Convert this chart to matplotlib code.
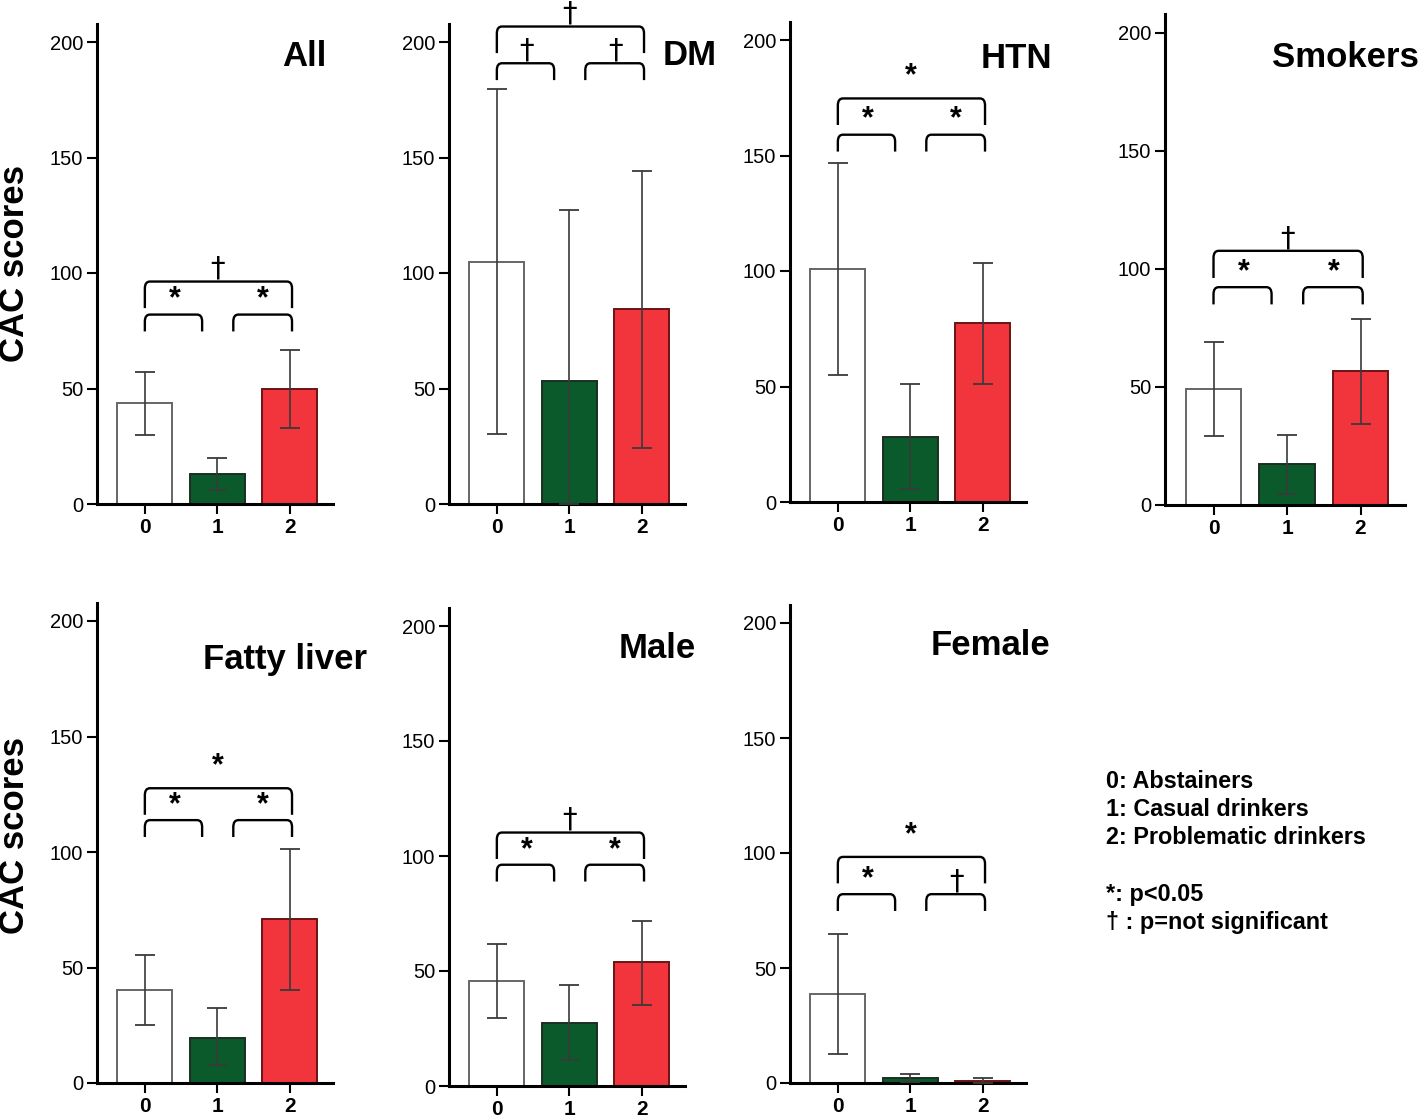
"""CAC scores by drinking group, seven subgroups, bar + SE-style error bars."""
import matplotlib
matplotlib.use("Agg")
import matplotlib.pyplot as plt
from matplotlib.path import Path
from matplotlib.patches import PathPatch

plt.rcParams["font.family"] = ["Liberation Sans", "DejaVu Sans"]

groups = ["0", "1", "2"]
panel_names = ["All", "DM", "HTN", "Smokers", "Fatty liver", "Male", "Female"]

# bar heights (mean CAC score) per panel
mean_all = [43.7, 12.9, 49.7]
mean_dm = [104.9, 53.2, 84.2]
mean_htn = [101.0, 28.2, 77.3]
mean_smk = [49.2, 17.2, 56.6]
mean_fatty = [40.4, 19.6, 70.9]
mean_male = [45.6, 27.4, 53.9]
mean_female = [38.9, 2.1, 0.9]

# error bar lower / upper ends
low_all = [29.8, 6.0, 32.7]
high_all = [57.1, 20.1, 66.7]
low_dm = [30.1, 0.0, 24.4]
high_dm = [179.6, 127.3, 144.3]
low_htn = [55.1, 5.6, 51.0]
high_htn = [146.8, 51.0, 103.4]
low_smk = [29.2, 4.8, 34.3]
high_smk = [69.1, 29.6, 79.0]
low_fatty = [25.3, 7.7, 40.4]
high_fatty = [55.3, 32.3, 101.1]
low_male = [29.5, 11.5, 35.2]
high_male = [61.8, 43.7, 71.8]
low_female = [12.7, 0.5, 0.0]
high_female = [64.9, 4.0, 2.1]

# significance brackets: (short bracket height, long bracket height)
bracket_y = [(82.0, 96.3), (190.8, 206.7), (159.0, 174.7), (92.3, 107.7),
             (113.8, 127.6), (96.2, 110.2), (82.1, 98.3)]
# labels: (0 vs 1, 1 vs 2, 0 vs 2)
sig_labels = [("*", "*", "†"), ("†", "†", "†"), ("*", "*", "*"), ("*", "*", "†"),
              ("*", "*", "*"), ("*", "*", "†"), ("*", "†", "*")]

legend_lines = ["0: Abstainers", "1: Casual drinkers", "2: Problematic drinkers",
                "", "*: p<0.05", "† : p=not significant"]

means = [mean_all, mean_dm, mean_htn, mean_smk, mean_fatty, mean_male, mean_female]
lows = [low_all, low_dm, low_htn, low_smk, low_fatty, low_male, low_female]
highs = [high_all, high_dm, high_htn, high_smk, high_fatty, high_male, high_female]

# layout in pixels: spine x, zero-line y, px per y unit, px per x unit
layout = [(97, 504, 2.31, 72.5), (449, 504, 2.31, 72.5), (790, 502, 2.31, 72.5),
          (1165, 505, 2.36, 73.5), (97, 1083, 2.31, 72.5), (449, 1086, 2.30, 72.5),
          (790, 1083, 2.30, 72.5)]
title_pos = [(2.51, 193.7), (3.03, 194), (2.96, 192), (2.80, 189.8),
             (3.06, 183.2), (2.74, 190), (2.93, 190.3)]

W, H = 1418, 1119
XLIM = (-0.66, 2.60)
YTOP = 208
colors = ["white", "#0b5a2c", "#f2343c"]
edges = ["#666666", "#1c2e22", "#6a1414"]


def bracket(ax, x0, x1, y, drop, rx=0.07, ry=3.0):
    verts = [(x0, y - drop), (x0, y - ry), (x0, y), (x0 + rx, y),
             (x1 - rx, y), (x1, y), (x1, y - ry), (x1, y - drop)]
    codes = [Path.MOVETO, Path.LINETO, Path.CURVE3, Path.CURVE3,
             Path.LINETO, Path.CURVE3, Path.CURVE3, Path.LINETO]
    ax.add_patch(PathPatch(Path(verts, codes), fill=False, lw=1.7,
                           edgecolor="black", clip_on=False, zorder=5))


def sig_text(ax, x, y, s, star_off=6.5):
    if s == "*":
        ax.text(x, y + star_off, s, ha="center", va="center", fontsize=22,
                fontweight="bold", clip_on=False)
    else:
        ax.text(x, y - 0.5, s, ha="center", va="bottom", fontsize=21,
                family="DejaVu Sans", clip_on=False)


fig = plt.figure(figsize=(W / 100, H / 100), dpi=100)

for i, name in enumerate(panel_names):
    sx, zy, ppu, ppx = layout[i]
    width = (XLIM[1] - XLIM[0]) * ppx
    height = YTOP * ppu
    ax = fig.add_axes([sx / W, (H - zy) / H, width / W, height / H])

    x = range(len(groups))
    m = means[i]
    ax.bar(x, m, width=0.76, color=colors, edgecolor=edges, linewidth=1.4, zorder=2)
    yerr = [[mm - lo for mm, lo in zip(m, lows[i])], [hi - mm for mm, hi in zip(m, highs[i])]]
    ax.errorbar(x, m, yerr=yerr, fmt="none", ecolor="#3a3a3a", elinewidth=1.2,
                capsize=7, capthick=1.3, zorder=3)

    ax.set_xlim(*XLIM)
    ax.set_ylim(0, YTOP)
    ax.set_yticks([0, 50, 100, 150, 200])
    ax.set_xticks(list(x))
    ax.set_xticklabels(groups, fontsize=15, fontweight="bold")
    ax.tick_params(axis="y", direction="out", length=7, width=1.5, labelsize=14.5, pad=3)
    ax.tick_params(axis="x", direction="out", length=7, width=1.5, pad=3)
    for s in ("top", "right"):
        ax.spines[s].set_visible(False)
    for s in ("left", "bottom"):
        ax.spines[s].set_linewidth(2.2)
    ax.patch.set_alpha(0)

    sy, ly = bracket_y[i]
    l01, l12, l02 = sig_labels[i]
    bracket(ax, 0.0, 0.79, sy, 7.3)
    bracket(ax, 1.22, 2.03, sy, 7.3)
    bracket(ax, 0.0, 2.03, ly, 11.5)
    sig_text(ax, 0.41, sy, l01)
    sig_text(ax, 1.63, sy, l12)
    sig_text(ax, 1.0, ly, l02, star_off=9.5)

    tx, ty = title_pos[i]
    ax.text(tx, ty, name, ha="right", va="center", fontsize=25,
            fontweight="bold", clip_on=False)

for yc in (263, 835):
    fig.text(15 / W, (H - yc) / H, "CAC scores", rotation=90, ha="center",
             va="center", fontsize=25, fontweight="bold")

line_y = [781, 809, 837, 866, 894, 922]
for txt, yy in zip(legend_lines, line_y):
    if txt:
        fig.text(1106 / W, (H - yy) / H, txt, ha="left", va="center",
                 fontsize=16.8, fontweight="bold")

fig.savefig("out.png", dpi=100)
